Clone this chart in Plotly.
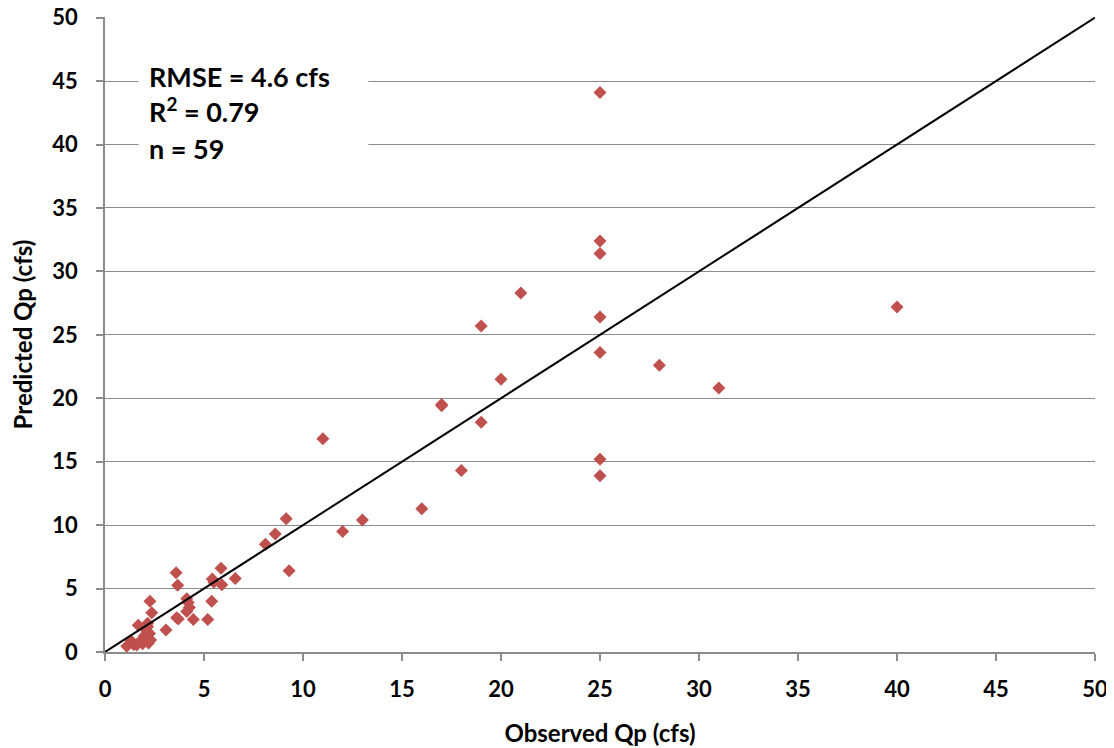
import plotly.graph_objects as go

# Observed vs predicted peak discharge (cfs)
observed = [
    25, 25, 25, 25, 25, 25, 25,
    21, 19, 20, 17, 17, 19, 18, 16, 13, 12, 11, 28, 31, 40,
    9.15, 8.6, 8.1, 9.3,
    5.86, 5.9, 6.58, 5.42, 5.5, 5.39, 5.19,
    3.59, 3.67, 4.13, 4.2, 4.26, 4.13, 3.62, 3.7, 4.46, 3.08,
    2.27, 2.36, 1.68, 2.15,
    1.1, 1.3, 1.45, 1.6, 1.75, 1.9, 2.0, 2.1, 2.2, 2.25, 2.3, 2.05, 2.15,
]
predicted = [
    44.1, 32.4, 31.4, 26.4, 23.6, 15.2, 13.9,
    28.3, 25.7, 21.5, 19.5, 19.4, 18.1, 14.3, 11.3, 10.4, 9.5, 16.8, 22.6, 20.8, 27.2,
    10.5, 9.3, 8.5, 6.4,
    6.6, 5.3, 5.8, 5.75, 5.5, 4.0, 2.57,
    6.25, 5.27, 4.2, 3.9, 3.5, 3.2, 2.7, 2.6, 2.57, 1.73,
    4.0, 3.1, 2.1, 2.26,
    0.45, 0.9, 0.6, 0.55, 0.8, 0.65, 1.3, 1.7, 0.7, 1.45, 0.95, 1.0, 2.0,
]
line_x = [0, 50]
line_y = [0, 50]
tick_vals = [0, 5, 10, 15, 20, 25, 30, 35, 40, 45, 50]
tick_text = ["<b>%d</b>" % v for v in tick_vals]
stats_lines = ["<b>RMSE = 4.6 cfs</b>", "<b>R<sup>2</sup> = 0.79</b>", "<b>n = 59</b>"]

FONT = "Lato"
GRID = "#8c8c8c"

fig = go.Figure()
fig.add_trace(go.Scatter(
    x=observed, y=predicted, mode="markers",
    marker=dict(symbol="diamond", size=10, color="#C0504D"),
    showlegend=False, cliponaxis=False,
))
fig.add_trace(go.Scatter(
    x=line_x, y=line_y, mode="lines",
    line=dict(color="black", width=2), showlegend=False,
))

# white text box hiding gridlines
fig.add_shape(type="rect", xref="x", yref="y", x0=1.7, x1=13.3, y0=37.6, y1=47.6,
              fillcolor="white", line=dict(width=0), layer="between")
for txt, yv in zip(stats_lines, [45.4, 42.75, 39.7]):
    fig.add_annotation(x=2.1, y=yv, xref="x", yref="y", text=txt, showarrow=False,
                       xanchor="left", yanchor="middle",
                       font=dict(family=FONT, size=27, color="black"))

tick_font = dict(family=FONT, size=22, color="black")
title_font = dict(family=FONT, size=24, color="black")
fig.update_xaxes(range=[0, 50], tickvals=tick_vals, ticktext=tick_text, showgrid=False,
                 showline=True, linecolor=GRID, linewidth=1.5,
                 ticks="outside", ticklen=7, tickcolor=GRID, tickwidth=1.5,
                 tickfont=tick_font, zeroline=False, automargin=False,
                 ticklabelstandoff=10, ticklabeloverflow="allow",
                 title=dict(text="<b>Observed Qp (cfs)</b>", font=title_font, standoff=24))
fig.update_yaxes(range=[0, 50.05], tickvals=tick_vals, ticktext=tick_text, showgrid=True,
                 gridcolor=GRID, gridwidth=1,
                 showline=True, linecolor=GRID, linewidth=1.5,
                 ticks="outside", ticklen=7, tickcolor=GRID, tickwidth=1.5,
                 tickfont=tick_font, zeroline=False, automargin=False,
                 ticklabelstandoff=14, ticklabeloverflow="allow",
                 title=dict(text="<b>Predicted Qp (cfs)</b>", font=title_font, standoff=14))
fig.update_layout(
    width=1106, height=740,
    margin=dict(l=97, r=19, t=9, b=96),
    plot_bgcolor="white", paper_bgcolor="white",
    font=dict(family=FONT),
)
fig.write_html("out.html")
